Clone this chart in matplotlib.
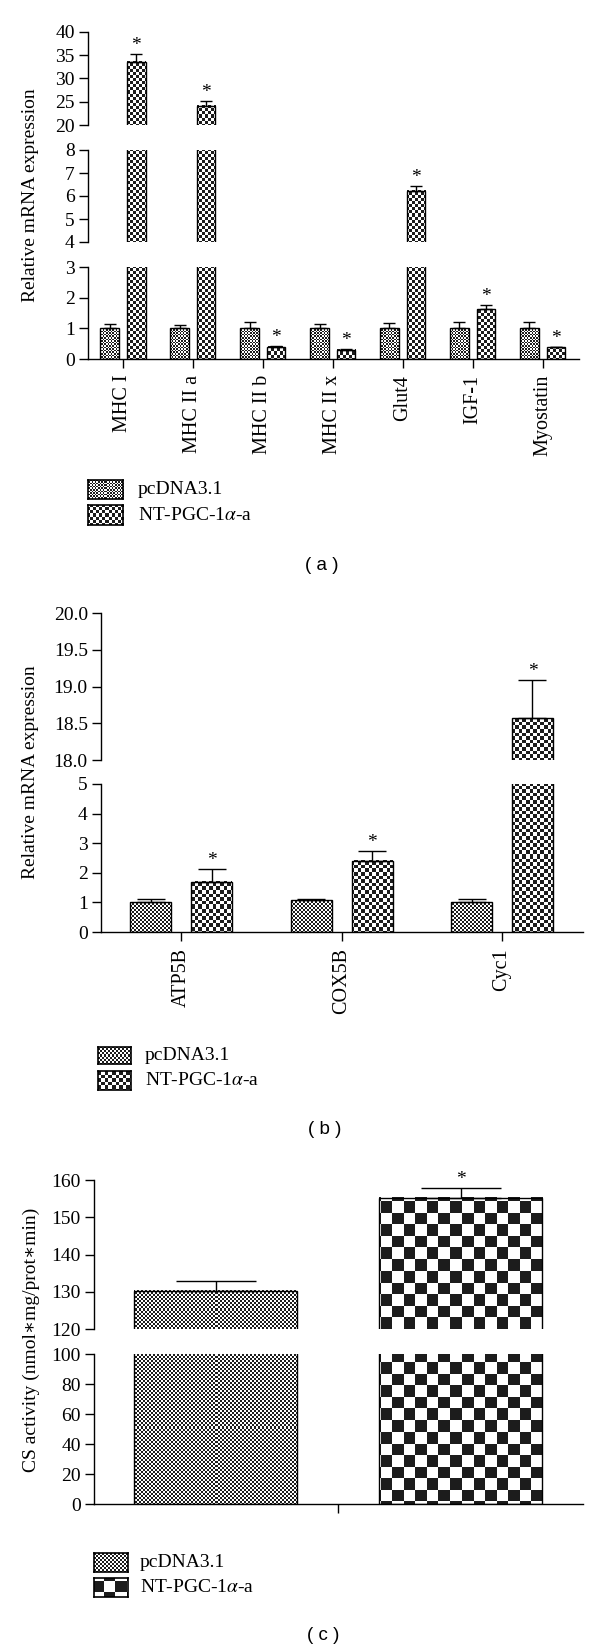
"""Broken-axis bar charts (a), (b), (c) with checkerboard bar fills."""

from __future__ import annotations

import matplotlib

matplotlib.use("Agg")

import matplotlib.pyplot as plt
import numpy as np
from matplotlib.colors import ListedColormap

W_PX, H_PX, DPI = 600, 1651, 100

LABEL_CTRL = "pcDNA3.1"
LABEL_NT = "NT-PGC-1$\\alpha$-a"

# panel (a)
GENES_A = ["MHC I", "MHC II a", "MHC II b", "MHC II x", "Glut4", "IGF-1", "Myostatin"]
CTRL_A = [1.0, 1.0, 1.0, 1.0, 1.0, 1.0, 1.0]
CTRL_A_ERR = [0.13, 0.10, 0.20, 0.13, 0.17, 0.20, 0.20]
NT_A = [33.6, 24.1, 0.40, 0.30, 6.23, 1.62, 0.38]
NT_A_ERR = [1.7, 1.05, 0.02, 0.02, 0.20, 0.13, 0.02]
STAR_A = [True, True, True, True, True, True, True]

# panel (b)
GENES_B = ["ATP5B", "COX5B", "Cyc1"]
CTRL_B = [1.0, 1.07, 1.0]
CTRL_B_ERR = [0.10, 0.03, 0.10]
NT_B = [1.69, 2.40, 18.57]
NT_B_ERR = [0.45, 0.33, 0.52]
STAR_B = [True, True, True]

# panel (c)
CTRL_C = [130.3]
CTRL_C_ERR = [2.7]
NT_C = [155.3]
NT_C_ERR = [2.6]
STAR_C = [True]

SERIF = ["Liberation Serif", "DejaVu Serif"]
DARK = "#1c1c1c"
FS = 14.0
FS_XTICK = 14.5

plt.rcParams["font.family"] = SERIF
plt.rcParams["font.size"] = FS
plt.rcParams["mathtext.fontset"] = "stix"
plt.rcParams["axes.linewidth"] = 1.0

fig = plt.figure(figsize=(W_PX / DPI, H_PX / DPI), dpi=DPI)


def px_axes(left: float, top: float, right: float, bottom: float):
    return fig.add_axes(
        [left / W_PX, 1 - bottom / H_PX, (right - left) / W_PX, (bottom - top) / H_PX]
    )


def checker(ax, x0, x1, y0, y1, cell, dark=DARK, light="white", zorder=2) -> None:
    """Fill a data rectangle with a pixel-aligned checkerboard image."""
    ylo, yhi = ax.get_ylim()
    yb, yt = max(y0, ylo), min(y1, yhi)
    if yt <= yb:
        return
    (px0, py0), (px1, py1) = ax.transData.transform([(x0, yb), (x1, yt)])
    nx = max(int(round(px1 - px0)), 1)
    ny = max(int(round(py1 - py0)), 1)
    ix = np.floor(px0) + np.arange(nx)
    iy = np.floor(py0) + np.arange(ny)
    grid = (np.floor(ix / cell)[None, :] + np.floor(iy / cell)[:, None]) % 2
    ax.imshow(
        grid,
        cmap=ListedColormap([light, dark]),
        vmin=0,
        vmax=1,
        extent=(x0, x1, yb, yt),
        origin="lower",
        interpolation="nearest",
        aspect="auto",
        zorder=zorder,
    )


def draw_panel(
    segments,
    xlim,
    cats,
    series,
    *,
    width,
    offset,
    capsize,
    tick_labels=True,
):
    """segments: list of (pixel box, ylim, ticks, tick fmt, break ends), top first."""
    axes = []
    for i, (box, ylim, ticks, fmt, breaks) in enumerate(segments):
        ax = px_axes(*box)
        ax.set_xlim(*xlim)
        ax.set_ylim(*ylim)
        for side in ("top", "right"):
            ax.spines[side].set_visible(False)
        ax.set_yticks(ticks)
        ax.set_yticklabels([fmt.format(t) for t in ticks])
        ax.set_yticks(breaks, minor=True)
        ax.tick_params(axis="y", which="major", direction="out", length=6.5, width=1.0, pad=3)
        ax.tick_params(axis="y", which="minor", direction="in", length=4.5, width=1.0)
        last = i == len(segments) - 1
        if last:
            ax.set_xticks(np.arange(len(cats)))
            ax.set_xticklabels(
                cats if tick_labels else [""] * len(cats), rotation=90, fontsize=FS_XTICK
            )
            ax.tick_params(axis="x", direction="out", length=6.5, width=1.0, pad=5)
        else:
            ax.spines["bottom"].set_visible(False)
            ax.tick_params(axis="x", bottom=False, labelbottom=False)
        x = np.arange(len(cats))
        for (vals, errs, cell, stars), dx in zip(series, (-offset, offset)):
            bars = ax.bar(
                x + dx, vals, width, color="none", edgecolor="black", linewidth=1.0, zorder=3
            )
            for rect in bars:
                checker(
                    ax,
                    rect.get_x(),
                    rect.get_x() + rect.get_width(),
                    rect.get_y(),
                    rect.get_y() + rect.get_height(),
                    cell,
                )
            ax.errorbar(
                x + dx,
                vals,
                yerr=[np.zeros(len(vals)), errs],
                fmt="none",
                ecolor="black",
                elinewidth=1.0,
                capsize=capsize,
                capthick=1.0,
                zorder=4,
            )
        ax.set_xlim(*xlim)
        ax.set_ylim(*ylim)
        axes.append(ax)

    # significance stars above the treated bars
    vals, errs, _cell, stars = series[1]
    for xi, (v, e, s) in enumerate(zip(vals, errs, stars)):
        if not s:
            continue
        top = v + e
        for ax in axes:
            lo, hi = ax.get_ylim()
            if lo <= top <= hi:
                ax.annotate(
                    "*",
                    xy=(xi + offset, top),
                    xytext=(0, 0),
                    textcoords="offset points",
                    ha="center",
                    va="bottom",
                    fontsize=14,
                    annotation_clip=False,
                )
                break
    return axes


def legend_box(box, cell, text, text_x) -> None:
    ax = px_axes(*box)
    ax.set_xlim(0, 1)
    ax.set_ylim(0, 1)
    checker(ax, 0, 1, 0, 1, cell)
    ax.set_xticks([])
    ax.set_yticks([])
    for sp in ax.spines.values():
        sp.set_linewidth(1.2)
    yc = 1 - (box[1] + box[3]) / 2 / H_PX
    fig.text(text_x / W_PX, yc, text, ha="left", va="center", fontsize=FS)


def panel_label(x, y, text) -> None:
    fig.text(
        x / W_PX, 1 - y / H_PX, text, ha="center", va="center",
        fontsize=13.5, family=["Liberation Sans", "DejaVu Sans"],
    )


def ylabel(y, text) -> None:
    fig.text(31 / W_PX, 1 - y / H_PX, text, rotation=90, ha="center", va="center", fontsize=FS)


# ---------------- (a) ----------------
draw_panel(
    [
        ((88, 32, 579, 125), (20, 40), [20, 25, 30, 35, 40], "{:g}", [20]),
        ((88, 150, 579, 242), (4, 8), [4, 5, 6, 7, 8], "{:g}", [4, 8]),
        ((88, 267, 579, 359), (0, 3), [0, 1, 2, 3], "{:g}", [3]),
    ],
    (-0.5, 6.52),
    GENES_A,
    [(CTRL_A, CTRL_A_ERR, 1.6, None), (NT_A, NT_A_ERR, 3.0, STAR_A)],
    width=0.265,
    offset=0.19,
    capsize=4.5,
)
ylabel(195, "Relative mRNA expression")
legend_box((88, 480, 123, 499), 1.6, LABEL_CTRL, 138)
legend_box((88, 505, 123, 525), 3.0, LABEL_NT, 138)
panel_label(322, 565, "( a )")

# ---------------- (b) ----------------
draw_panel(
    [
        ((101, 613, 583, 760), (18, 20), [18.0, 18.5, 19.0, 19.5, 20.0], "{:.1f}", [18]),
        ((101, 784, 583, 932), (0, 5), [0, 1, 2, 3, 4, 5], "{:g}", [5]),
    ],
    (-0.5, 2.505),
    GENES_B,
    [(CTRL_B, CTRL_B_ERR, 2.0, None), (NT_B, NT_B_ERR, 3.6, STAR_B)],
    width=0.255,
    offset=0.19,
    capsize=10,
)
ylabel(772, "Relative mRNA expression")
legend_box((98, 1047, 131, 1064), 2.0, LABEL_CTRL, 145)
legend_box((98, 1071, 131, 1090), 3.6, LABEL_NT, 145)
panel_label(325, 1130, "( b )")

# ---------------- (c) ----------------
draw_panel(
    [
        ((94, 1180, 583, 1329), (120, 160), [120, 130, 140, 150, 160], "{:g}", [120]),
        ((94, 1354, 583, 1504), (0, 100), [0, 20, 40, 60, 80, 100], "{:g}", [100]),
    ],
    (-0.498, 0.5),
    [""],
    [(CTRL_C, CTRL_C_ERR, 2.0, None), (NT_C, NT_C_ERR, 11.5, STAR_C)],
    width=0.333,
    offset=0.25,
    capsize=29,
    tick_labels=False,
)
ylabel(1340, "CS activity (nmol\u2217mg/prot\u2217min)")
legend_box((94, 1553, 128, 1572), 2.0, LABEL_CTRL, 140)
legend_box((94, 1578, 128, 1597), 11.5, LABEL_NT, 140)
panel_label(323, 1635, "( c )")

fig.savefig("out.png", dpi=DPI)
